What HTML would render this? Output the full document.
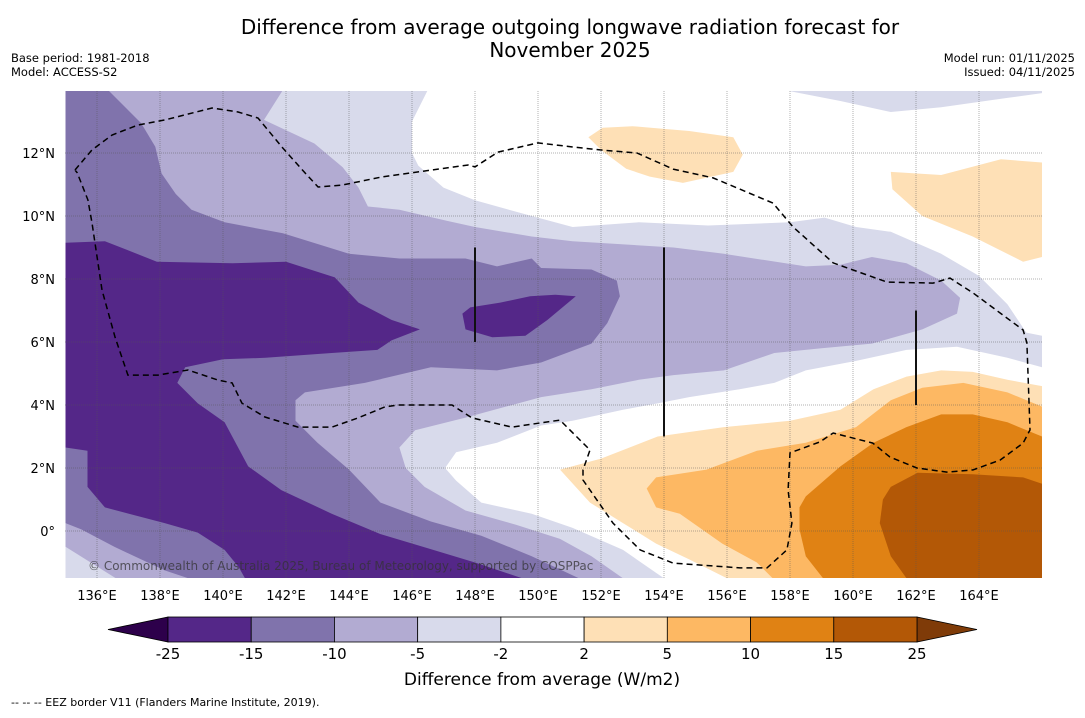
<!DOCTYPE html>
<html><head><meta charset="utf-8">
<style>
body{margin:0;background:#fff;}
svg text{font-family:"DejaVu Sans","Liberation Sans",sans-serif;}
</style></head>
<body>
<svg id="chart" width="1085" height="713" viewBox="0 0 1085 713" xmlns="http://www.w3.org/2000/svg">
<defs><clipPath id="mapclip"><rect x="65" y="91" width="977" height="487"/></clipPath></defs>
<rect x="0" y="0" width="1085" height="713" fill="#fff"/>
<text x="570" y="34" font-size="20" text-anchor="middle" fill="#000">Difference from average outgoing longwave radiation forecast for</text>
<text x="570" y="57" font-size="20" text-anchor="middle" fill="#000">November 2025</text>
<text x="11" y="62" font-size="11.5">Base period: 1981-2018</text>
<text x="11" y="76" font-size="11.5">Model: ACCESS-S2</text>
<text x="1075" y="62" font-size="11.5" text-anchor="end">Model run: 01/11/2025</text>
<text x="1075" y="76" font-size="11.5" text-anchor="end">Issued: 04/11/2025</text>
<g id="map" clip-path="url(#mapclip)">
<rect x="65" y="91" width="977" height="487" fill="#fff"/>
</g>
<g id="axes"></g>
<g id="cbar"></g>
<text x="542" y="685" font-size="17" text-anchor="middle">Difference from average (W/m2)</text>
<text x="11" y="706" font-size="11">--  --  -- EEZ border V11 (Flanders Marine Institute, 2019).</text>
</svg>
<script>
// Contour levels and colours
const levelLabels = ["-25","-15","-10","-5","-2","2","5","10","15","25"];
const levelColors = ["#542788","#8073ac","#b2abd2","#d8daeb","#ffffff","#fee0b6","#fdb863","#e08214","#b35806"];
const extendLow = "#2d004b";
const extendHigh = "#7f3b08";
const lonTicks = [136,138,140,142,144,146,148,150,152,154,156,158,160,162,164];
const latTicks = [0,2,4,6,8,10,12];

// Filled contour regions [lon,lat]
const lavenderMain = [[135,14],[146.5,14],[146.0,13.0],[146.0,12.0],[146.2,11.6],[147.0,10.9],[148.0,10.5],[149.8,10.0],[151.1,9.65],[153.2,9.8],[155.4,9.7],[158.0,9.8],[159.1,9.95],[160.1,9.65],[161.2,9.5],[162.8,8.8],[164.0,8.1],[164.9,7.2],[165.5,6.3],[166,6.2],[166,5.2],[164.9,5.5],[163.3,5.85],[161.7,5.75],[160.1,5.4],[158.5,5.1],[157.5,4.7],[156.4,4.5],[154.8,4.25],[153.8,4.05],[152.7,3.85],[151.1,3.5],[150.1,3.35],[148.7,2.8],[147.4,2.5],[147.05,2.0],[147.4,1.6],[148.2,0.9],[149.8,0.55],[151.1,0.1],[152.7,-0.6],[154.0,-1.5],[135,-1.5]];
const lavenderTop = [[157.8,14],[157.8,14],[159.6,13.65],[161.2,13.3],[162.8,13.45],[164.9,13.75],[166,13.9],[166,14]];
const lightPurple = [[135,14],[141.9,14],[141.3,13.05],[142.9,12.3],[143.8,11.55],[144.3,10.9],[144.6,10.3],[145.6,10.2],[147.1,9.85],[148,9.65],[149.8,9.35],[151.1,9.2],[154.3,9.0],[155.9,8.8],[158.5,8.4],[159.6,8.45],[160.6,8.7],[161.7,8.5],[162.8,7.95],[163.4,7.4],[163.3,6.9],[162.2,6.4],[160.6,5.95],[159.0,5.8],[157.5,5.65],[155.9,5.1],[154.3,4.95],[153.2,4.8],[151.7,4.5],[150.1,4.25],[147.7,3.6],[146.1,3.2],[145.6,2.65],[145.8,2.0],[146.4,1.4],[147.7,0.65],[149.3,0.2],[150.7,-0.25],[151.7,-0.8],[152.7,-1.5],[136.6,-1.5],[135,-0.5]];
const mediumPurple = [[135,14],[136.35,14],[137.4,12.95],[137.85,12.2],[138.05,11.35],[138.5,10.7],[139.0,10.2],[140.05,9.8],[141.9,9.45],[144,8.8],[145.6,8.65],[147.7,8.65],[148.7,8.4],[149.8,8.65],[150.1,8.35],[151.7,8.3],[152.5,7.95],[152.6,7.45],[152.2,6.6],[151.7,5.95],[150.1,5.35],[148.7,5.1],[146.6,5.2],[144.5,4.7],[142.6,4.4],[142.3,4.15],[142.3,3.5],[143,2.8],[144,1.95],[145,0.9],[146.6,0.3],[148.2,-0.15],[149.8,-0.8],[151.3,-1.5],[138.9,-1.5],[138.15,-1.25],[136.55,-0.5],[135.5,0.05],[135,0.25]];
const darkPurple = [[135,9.15],[136.25,9.2],[137.9,8.55],[140.3,8.5],[142,8.55],[143.55,8.05],[144.3,7.25],[145.35,6.7],[146.25,6.4],[145.35,6.05],[144.9,5.75],[143.45,5.65],[141.35,5.5],[140,5.45],[138.8,5.2],[138.55,4.7],[139.2,4.05],[140.05,3.45],[140.8,2.05],[141.85,1.3],[143.45,0.55],[145.0,-0.1],[146.5,-0.55],[148.0,-1.0],[149.5,-1.5],[140.7,-1.5],[140.5,-1.15],[140.05,-0.6],[139.2,-0.05],[138.15,0.25],[136.25,0.75],[135.7,1.4],[135.7,2.55],[135,2.65]];
const darkPurpleBlob = [[147.6,6.9],[147.7,6.4],[148.55,6.15],[149.6,6.2],[150.3,6.7],[151.2,7.45],[150.55,7.5],[149.75,7.45],[148.8,7.25],[147.85,7.1]];
const peachTop = [[151.6,12.5],[152.05,12.8],[153,12.85],[154.8,12.7],[156.2,12.5],[156.5,11.95],[156.2,11.4],[154.6,11.05],[153.55,11.25],[152.8,11.5],[152,12.1]];
const peachRight = [[161.2,11.4],[162.8,11.3],[164.7,11.8],[166,11.7],[166,8.7],[165.4,8.55],[163.8,9.35],[162.2,10.0],[161.25,10.85]];
const peachBottom = [[150.7,1.95],[152,2.3],[153.8,3.0],[155.9,3.3],[158,3.5],[159.6,3.85],[160.65,4.5],[161.7,4.9],[162.8,5.1],[163.8,5.05],[164.9,4.8],[166,4.6],[166,-1.5],[156,-1.5],[154.8,-0.9],[153.75,-0.4],[152.7,0.25],[151.65,0.9]];
const lightOrange = [[153.45,1.35],[153.75,1.7],[155.35,1.95],[156.95,2.55],[158.5,2.8],[160.1,3.3],[161.2,4.15],[162.2,4.55],[163.5,4.7],[164.9,4.4],[166,3.95],[166,-1.5],[157.45,-1.5],[156.95,-1.0],[155.85,-0.4],[154.5,0.55],[153.75,0.75]];
const orange = [[158.3,0.75],[158.5,1.1],[159.6,2.05],[160.65,2.8],[161.7,3.3],[162.8,3.7],[163.8,3.7],[164.9,3.45],[166,3.0],[166,-1.5],[159.05,-1.5],[158.5,-0.8],[158.3,0.05]];
const darkOrange = [[161.2,1.4],[162.05,1.85],[163.8,1.8],[165.4,1.7],[166,1.5],[166,-1.5],[161.7,-1.5],[161.2,-0.8],[160.85,0.25],[160.95,1.0]];
const eezBorder = [[135.3,11.46],[135.84,12.1],[136.48,12.57],[137.3,12.89],[138.16,13.05],[139.65,13.43],[140.48,13.3],[141.11,13.11],[141.87,12.19],[142.6,11.37],[143.02,10.92],[143.78,10.98],[145.05,11.24],[146.63,11.46],[147.78,11.62],[148,11.56],[148.73,12.03],[150,12.32],[151.11,12.19],[151.97,12.1],[153.14,12],[154.29,11.49],[155.56,11.21],[157.46,10.41],[158.1,9.65],[159.37,8.51],[161.08,7.9],[162.54,7.87],[163.08,8.03],[163.81,7.56],[165.4,6.38],[165.52,5.97],[165.62,3.21],[165.4,2.79],[164.67,2.25],[163.81,1.94],[162.98,1.87],[162.03,2],[161.17,2.35],[160.63,2.79],[159.37,3.11],[158.95,2.83],[158,2.48],[157.94,1.3],[158.06,0.25],[157.9,-0.6],[157.27,-1.17],[156.41,-1.17],[154.29,-1.02],[153.24,-0.6],[152.38,0.25],[151.43,1.62],[151.43,1.94],[151.65,2.57],[150.7,3.52],[150.06,3.43],[149.17,3.3],[147.9,3.59],[147.27,4],[145.56,4],[145.14,3.94],[144.29,3.59],[143.46,3.3],[142.38,3.3],[141.33,3.62],[140.6,4.06],[140.29,4.7],[139.84,4.79],[138.89,5.11],[137.94,4.95],[136.98,4.95],[136.57,6.16],[136.16,7.65],[135.84,9.78],[135.71,10.51],[135.37,11.37],[135.3,11.46]];
const borderLines = [[148,9,6],[154,9,3],[162,7,4]];

const NS="http://www.w3.org/2000/svg";
const X = lon => 65.5 + (lon-135)*31.5;
const Y = lat => 531 - lat*31.5;
const map = document.getElementById('map');
const axes = document.getElementById('axes');
const cbar = document.getElementById('cbar');
function pts(arr){return arr.map(p=>X(p[0]).toFixed(1)+','+Y(p[1]).toFixed(1)).join(' ');}
function poly(arr,fill,name){
  const e=document.createElementNS(NS,'polygon');
  e.setAttribute('points',pts(arr));
  e.setAttribute('fill',fill);
  
  
  map.appendChild(e);
}
poly(lavenderMain,levelColors[3],'contour-minus5-to-minus2');
poly(lavenderTop,levelColors[3],'contour-minus5-to-minus2-north');
poly(lightPurple,levelColors[2],'contour-minus10-to-minus5');
poly(mediumPurple,levelColors[1],'contour-minus15-to-minus10');
poly(darkPurple,levelColors[0],'contour-minus25-to-minus15');
poly(darkPurpleBlob,levelColors[0],'contour-minus25-to-minus15-blob');
poly(peachTop,levelColors[5],'contour-2-to-5-north');
poly(peachRight,levelColors[5],'contour-2-to-5-northeast');
poly(peachBottom,levelColors[5],'contour-2-to-5-south');
poly(lightOrange,levelColors[6],'contour-5-to-10');
poly(orange,levelColors[7],'contour-10-to-15');
poly(darkOrange,levelColors[8],'contour-15-to-25');

// gridlines
lonTicks.forEach(lon=>{
  const l=document.createElementNS(NS,'line');
  l.setAttribute('x1',X(lon));l.setAttribute('x2',X(lon));l.setAttribute('y1',91);l.setAttribute('y2',578);
  l.setAttribute('stroke','#555');l.setAttribute('stroke-opacity','0.45');l.setAttribute('stroke-width','1');l.setAttribute('stroke-dasharray','1,1');
  
  
  map.appendChild(l);
});
latTicks.forEach(lat=>{
  const l=document.createElementNS(NS,'line');
  l.setAttribute('x1',65);l.setAttribute('x2',1042);l.setAttribute('y1',Y(lat));l.setAttribute('y2',Y(lat));
  l.setAttribute('stroke','#555');l.setAttribute('stroke-opacity','0.45');l.setAttribute('stroke-width','1');l.setAttribute('stroke-dasharray','1,1');
  
  
  map.appendChild(l);
});
borderLines.forEach(b=>{
  const l=document.createElementNS(NS,'line');
  l.setAttribute('x1',X(b[0]));l.setAttribute('x2',X(b[0]));l.setAttribute('y1',Y(b[1]));l.setAttribute('y2',Y(b[2]));
  l.setAttribute('stroke','#111');l.setAttribute('stroke-width','2');
  
  
  map.appendChild(l);
});
const eez=document.createElementNS(NS,'polyline');
eez.setAttribute('points',pts(eezBorder));
eez.setAttribute('fill','none');eez.setAttribute('stroke','#000');eez.setAttribute('stroke-width','1.5');eez.setAttribute('stroke-dasharray','6,4');


map.appendChild(eez);
const cr=document.createElementNS(NS,'text');
cr.setAttribute('x',88);cr.setAttribute('y',570);cr.setAttribute('font-size','12');cr.setAttribute('fill','#333');cr.setAttribute('fill-opacity','0.75');
cr.textContent='© Commonwealth of Australia 2025, Bureau of Meteorology, supported by COSPPac';


map.appendChild(cr);

// tick labels
lonTicks.forEach(lon=>{
  const t=document.createElementNS(NS,'text');
  t.setAttribute('x',X(lon));t.setAttribute('y',600);t.setAttribute('font-size','13');t.setAttribute('text-anchor','middle');
  t.textContent=lon+'°E';
  
  
  axes.appendChild(t);
});
latTicks.forEach(lat=>{
  const t=document.createElementNS(NS,'text');
  t.setAttribute('x',55);t.setAttribute('y',Y(lat)+5);t.setAttribute('font-size','13');t.setAttribute('text-anchor','end');
  t.textContent=lat===0?'0°':lat+'°N';
  
  
  axes.appendChild(t);
});

// colorbar
const cb0=168, cb1=917, cbT=617, cbB=642;
const segW=(cb1-cb0)/levelColors.length;
const lowTri=document.createElementNS(NS,'polygon');
lowTri.setAttribute('points',`${cb0},${cbT} ${cb0},${cbB} 108,${(cbT+cbB)/2}`);
lowTri.setAttribute('fill',extendLow);lowTri.setAttribute('stroke','#000');lowTri.setAttribute('stroke-width','0.8');


cbar.appendChild(lowTri);
const hiTri=document.createElementNS(NS,'polygon');
hiTri.setAttribute('points',`${cb1},${cbT} ${cb1},${cbB} 977,${(cbT+cbB)/2}`);
hiTri.setAttribute('fill',extendHigh);hiTri.setAttribute('stroke','#000');hiTri.setAttribute('stroke-width','0.8');


cbar.appendChild(hiTri);
levelColors.forEach((c,i)=>{
  const r=document.createElementNS(NS,'rect');
  r.setAttribute('x',cb0+i*segW);r.setAttribute('y',cbT);r.setAttribute('width',segW);r.setAttribute('height',cbB-cbT);
  r.setAttribute('fill',c);r.setAttribute('stroke','#000');r.setAttribute('stroke-width','0.8');
  
  
  cbar.appendChild(r);
});
levelLabels.forEach((lab,i)=>{
  const t=document.createElementNS(NS,'text');
  t.setAttribute('x',cb0+i*segW);t.setAttribute('y',659);t.setAttribute('font-size','15');t.setAttribute('text-anchor','middle');
  t.textContent=lab;
  
  
  cbar.appendChild(t);
});
</script>
</body></html>
